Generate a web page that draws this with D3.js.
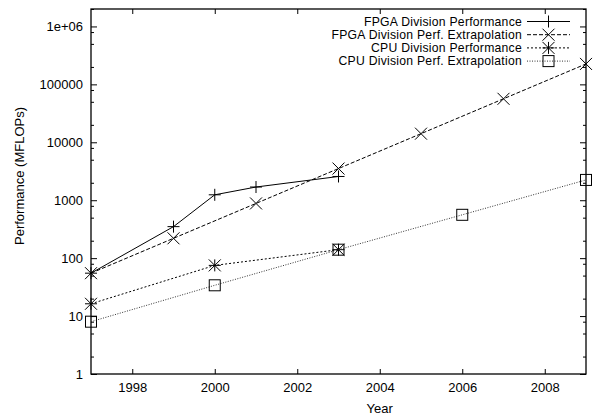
<!DOCTYPE html>
<html>
<head>
<meta charset="utf-8">
<script src="https://cdn.jsdelivr.net/npm/d3@7"></script>
<style>
  html, body { margin: 0; padding: 0; background: #fff; }
  svg { display: block; }
  text { font-family: "Liberation Sans", Arial, Helvetica, sans-serif; }
</style>
</head>
<body>
<svg id="chart" width="596" height="418"></svg>
<script>
// ---- data ----
const fpgaYears = [1997, 1999, 2000, 2001, 2003];
const fpgaPerf = [55, 350, 1240, 1690, 2570];

const fpgaExtYears = [1997, 1999, 2001, 2003, 2005, 2007, 2009];
const fpgaExtPerf = [55, 220, 880, 3520, 14080, 56320, 225280];

const cpuYears = [1997, 2000, 2003];
const cpuPerf = [16.3, 75, 140];

const cpuExtYears = [1997, 2000, 2003, 2006, 2009];
const cpuExtPerf = [8, 34, 140, 560, 2240];

const seriesNames = [
  "FPGA Division Performance",
  "FPGA Division Perf. Extrapolation",
  "CPU Division Performance",
  "CPU Division Perf. Extrapolation"
];

const xTicks = [1998, 2000, 2002, 2004, 2006, 2008];
const yTicks = [1, 10, 100, 1000, 10000, 100000, 1000000];
const yTickLabels = ["1", "10", "100", "1000", "10000", "100000", "1e+06"];
const yMinorMult = [2, 5, 8];

const xLabel = "Year";
const yLabel = "Performance (MFLOPs)";

// ---- layout ----
const W = 596, H = 418;
const m = { left: 91, right: 10, top: 9, bottom: 44 };
const svg = d3.select("#chart");

const x = d3.scaleLinear().domain([1997, 2009]).range([m.left, W - m.right]);
const y = d3.scaleLog().domain([1, 2e6]).range([H - m.bottom, m.top]);

const minorVals = [];
for (let e = 0; e <= 6; e++) {
  yMinorMult.forEach(k => { const v = k * Math.pow(10, e); if (v <= 2e6) minorVals.push(v); });
}

const fontSize = 13;
const legFont = 12.2;

// axes
function styleAxis(g) {
  g.select(".domain").remove();
  g.selectAll(".tick line").attr("stroke", "#000").attr("stroke-width", 1);
  g.selectAll(".tick text").attr("fill", "#000").style("font-size", fontSize + "px")
    .style("font-family", "'Liberation Sans', Arial, sans-serif");
}

svg.append("g").attr("transform", `translate(0,${H - m.bottom})`)
  .call(d3.axisBottom(x).tickValues(xTicks).tickFormat(d3.format("d")).tickSize(-5).tickPadding(9))
  .call(styleAxis);
svg.append("g").attr("transform", `translate(0,${m.top})`)
  .call(d3.axisTop(x).tickValues(xTicks).tickFormat("").tickSize(-5))
  .call(styleAxis);
svg.append("g").attr("transform", `translate(${m.left},0)`)
  .call(d3.axisLeft(y).tickValues(yTicks).tickFormat((d, i) => yTickLabels[i]).tickSize(-6).tickPadding(8))
  .call(styleAxis);
svg.append("g").attr("transform", `translate(${m.left},0)`)
  .call(d3.axisLeft(y).tickValues(minorVals).tickFormat("").tickSize(-3))
  .call(styleAxis);
svg.append("g").attr("transform", `translate(${W - m.right},0)`)
  .call(d3.axisRight(y).tickValues(yTicks).tickFormat("").tickSize(-6))
  .call(styleAxis);
svg.append("g").attr("transform", `translate(${W - m.right},0)`)
  .call(d3.axisRight(y).tickValues(minorVals).tickFormat("").tickSize(-3))
  .call(styleAxis);

// frame
svg.append("rect")
  .attr("x", m.left).attr("y", m.top)
  .attr("width", W - m.left - m.right).attr("height", H - m.top - m.bottom)
  .attr("fill", "none").attr("stroke", "#000").attr("stroke-width", 1.3);

// axis titles
svg.append("text").attr("x", x(2004)).attr("y", 413)
  .attr("text-anchor", "middle").style("font-size", fontSize + "px").text(xLabel);
svg.append("text")
  .attr("transform", `translate(24,176) rotate(-90)`)
  .attr("text-anchor", "middle").style("font-size", fontSize + "px").text(yLabel);

// markers
function drawMarker(g, type, cx, cy) {
  const s = 6;
  const p = g.append("g").attr("stroke", "#000").attr("stroke-width", 1).attr("fill", "none");
  if (type === "plus" || type === "star") {
    p.append("line").attr("x1", cx - s).attr("x2", cx + s).attr("y1", cy).attr("y2", cy);
    p.append("line").attr("x1", cx).attr("x2", cx).attr("y1", cy - s).attr("y2", cy + s);
  }
  if (type === "cross" || type === "star") {
    p.append("line").attr("x1", cx - s).attr("x2", cx + s).attr("y1", cy - s).attr("y2", cy + s);
    p.append("line").attr("x1", cx - s).attr("x2", cx + s).attr("y1", cy + s).attr("y2", cy - s);
  }
  if (type === "square") {
    const h = 5.5;
    p.append("rect").attr("x", cx - h).attr("y", cy - h).attr("width", 2 * h).attr("height", 2 * h);
  }
}

const series = [
  { name: seriesNames[0], xs: fpgaYears, ys: fpgaPerf, dash: null, color: "#000", marker: "plus" },
  { name: seriesNames[1], xs: fpgaExtYears, ys: fpgaExtPerf, dash: "4,2", color: "#000", marker: "cross" },
  { name: seriesNames[2], xs: cpuYears, ys: cpuPerf, dash: "2,2", color: "#000", marker: "star" },
  { name: seriesNames[3], xs: cpuExtYears, ys: cpuExtPerf, dash: "1,1.5", color: "#333", marker: "square" }
];

const line = d3.line().x(d => x(d[0])).y(d => y(d[1]));
const plot = svg.append("g");
series.forEach(s => {
  const pts = s.xs.map((xv, i) => [xv, s.ys[i]]);
  plot.append("path").datum(pts).attr("d", line)
    .attr("fill", "none").attr("stroke", s.color).attr("stroke-width", 1)
    .attr("stroke-dasharray", s.dash);
  pts.forEach(p => drawMarker(plot, s.marker, x(p[0]), y(p[1])));
});

// legend
const leg = svg.append("g");
const legTextX = 522, legX1 = 527, legX2 = 570, legY0 = 21.5, legDy = 13.2;
series.forEach((s, i) => {
  const ly = legY0 + i * legDy;
  leg.append("text").attr("x", legTextX).attr("y", ly).attr("dy", "0.35em")
    .attr("text-anchor", "end").style("font-size", legFont + "px")
    .style("letter-spacing", "0.25px").text(s.name);
  leg.append("line").attr("x1", legX1).attr("x2", legX2).attr("y1", ly).attr("y2", ly)
    .attr("stroke", s.color).attr("stroke-width", 1).attr("stroke-dasharray", s.dash);
  drawMarker(leg, s.marker, (legX1 + legX2) / 2, ly);
});
</script>
</body>
</html>
